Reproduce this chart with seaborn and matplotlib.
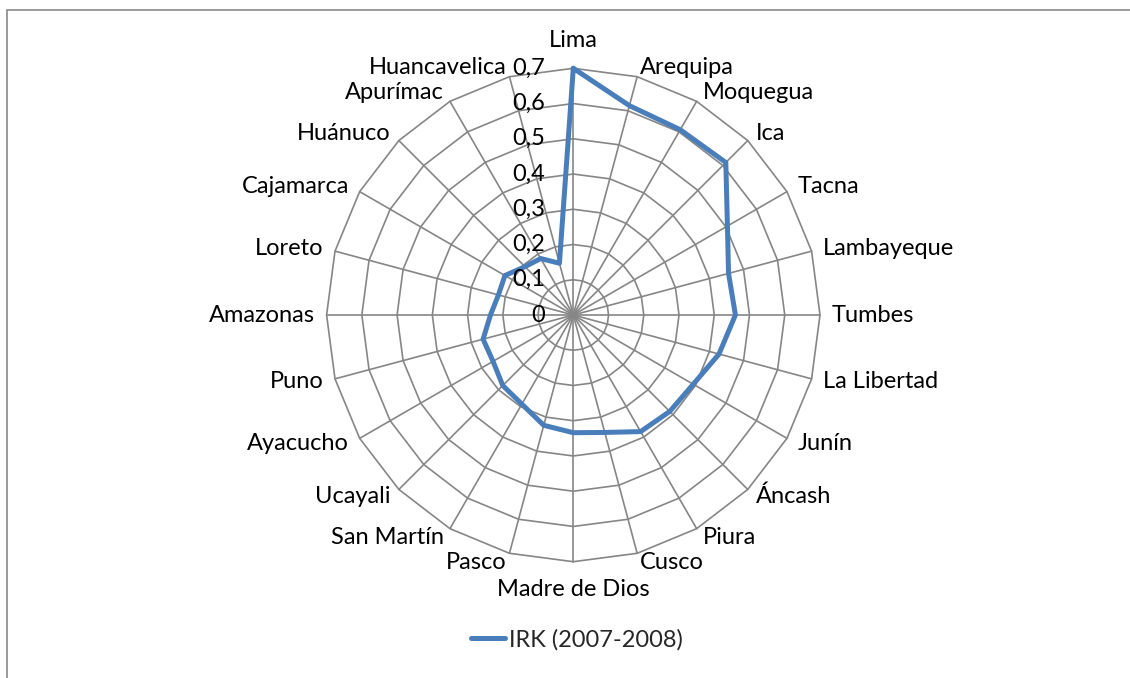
import numpy as np
import pandas as pd
import matplotlib
matplotlib.use("Agg")
import matplotlib.pyplot as plt
from matplotlib.patches import Rectangle
import seaborn as sns

categories = ["Lima", "Arequipa", "Moquegua", "Ica", "Tacna", "Lambayeque", "Tumbes",
              "La Libertad", "Junín", "Áncash", "Piura", "Cusco", "Madre de Dios", "Pasco",
              "San Martín", "Ucayali", "Ayacucho", "Puno", "Amazonas", "Loreto",
              "Cajamarca", "Huánuco", "Apurímac", "Huancavelica"]
irk_values = [0.700, 0.615, 0.607, 0.612, 0.505, 0.456, 0.460, 0.428, 0.393, 0.387,
              0.382, 0.345, 0.334, 0.324, 0.292, 0.283, 0.263, 0.265, 0.235, 0.220,
              0.224, 0.194, 0.185, 0.152]
radial_ticks = [0.0, 0.1, 0.2, 0.3, 0.4, 0.5, 0.6, 0.7]
radial_labels = ["0", "0,1", "0,2", "0,3", "0,4", "0,5", "0,6", "0,7"]
series_name = "IRK (2007-2008)"

sns.set_style("white")
plt.rcParams["font.family"] = ["Lato", "DejaVu Sans"]
FS = 17

W, H = 1130, 678
fig = plt.figure(figsize=(W / 100, H / 100), dpi=100)

cx, cy, R = 573.3, 315.0, 246.7
ax = fig.add_axes([(cx - R) / W, (H - cy - R) / H, 2 * R / W, 2 * R / H], projection="polar")
ax.set_theta_offset(np.pi / 2)
ax.set_theta_direction(-1)
ax.set_ylim(0, radial_ticks[-1])
ax.grid(False)
ax.set_xticks([])
ax.set_yticks([])
ax.spines["polar"].set_visible(False)
ax.patch.set_alpha(0)

n = len(categories)
angles = np.arange(n) * 2 * np.pi / n
closed = np.append(angles, 2 * np.pi)
grid_col = "#868686"

for r in radial_ticks[1:]:
    ax.plot(closed, [r] * (n + 1), color=grid_col, lw=1.2, clip_on=False, zorder=1)
for a in angles:
    ax.plot([a, a], [0, radial_ticks[-1]], color=grid_col, lw=1.2, clip_on=False, zorder=1)

df = pd.DataFrame({"theta": closed, "value": irk_values + [irk_values[0]]})
sns.lineplot(data=df, x="theta", y="value", ax=ax, sort=False, estimator=None,
             color="#4A7EBB", lw=3.6, label=series_name, zorder=3, clip_on=False)
ax.set_xlabel("")
ax.set_ylabel("")
ax.set_xlim(0, 2 * np.pi)

for r, lab in zip(radial_ticks, radial_labels):
    ax.annotate(lab, xy=(0, r), xytext=(-28, 0), textcoords="offset pixels",
                ha="right", va="center", fontsize=FS, color="black")

rmax = radial_ticks[-1]
for a, lab in zip(angles, categories):
    s, c = np.sin(a), np.cos(a)
    if abs(s) < 0.01:
        ha = "center"
        dx = 0
        dy = 28 * np.sign(c)
    else:
        ha = "left" if s > 0 else "right"
        dx = 12 * s
        dy = 10 * c
    ax.annotate(lab, xy=(a, rmax), xytext=(dx, dy), textcoords="offset pixels",
                ha=ha, va="center", fontsize=FS, color="black")

handles, labels = ax.get_legend_handles_labels()
if ax.get_legend() is not None:
    ax.get_legend().remove()
fig.legend(handles, labels, loc="center", bbox_to_anchor=(577 / W, 1 - 640 / H),
           frameon=False, fontsize=FS, handlelength=1.45, handletextpad=0.17)

fig.add_artist(Rectangle((7 / W, -0.2), 2.0, (1 - 10 / H) + 0.2, fill=False,
                         ec="#898989", lw=1.2, transform=fig.transFigure))

fig.savefig("out.png", dpi=100)
